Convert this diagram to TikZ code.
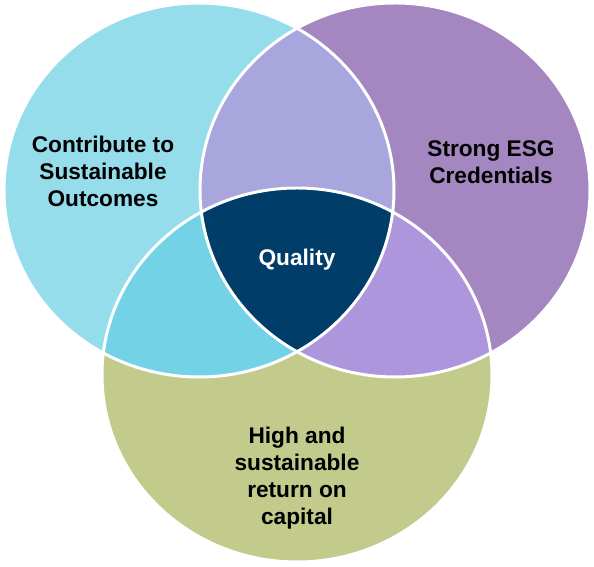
\documentclass[tikz,border=0pt]{standalone}
\usepackage{fontspec}
\setmainfont{Liberation Sans}
\usepackage{tikz}
\usetikzlibrary{positioning}

\definecolor{esgSky}{HTML}{96DDEB}
\definecolor{esgCyan}{HTML}{73D2E6}
\definecolor{esgLilac}{HTML}{A8A6DC}
\definecolor{esgPurple}{HTML}{A487C0}
\definecolor{esgViolet}{HTML}{AD96DC}
\definecolor{esgOlive}{HTML}{C2CA8C}
\definecolor{esgNavy}{HTML}{003D69}

\begin{document}
\begin{tikzpicture}[
		ring/.style={x radius=3.9cm, y radius=3.74cm},
		label/.style={align=center, font=\fontsize{12.9}{15.4}\selectfont\bfseries}
	]
		\useasboundingbox (0,0) rectangle (11.88,11.34);
		
		% ---------------------------------------------------------
		% Circle centres
		% ---------------------------------------------------------
		\coordinate (lc) at (3.98,7.54);   % Sustainable outcomes
		\coordinate (rc) at (7.90,7.54);   % ESG credentials
		\coordinate (bc) at (5.94,3.84);   % Return on capital
		
		% Full circles
		\fill[esgSky] (lc) ellipse [ring];
		\fill[esgPurple] (rc) ellipse [ring];
		\fill[esgOlive] (bc) ellipse [ring];
		
		% Pairwise overlaps
		\begin{scope}
			\clip (lc) ellipse [ring];
			\fill[esgLilac] (rc) ellipse [ring];
			\fill[esgCyan] (bc) ellipse [ring];
		\end{scope}
		\begin{scope}
			\clip (rc) ellipse [ring];
			\fill[esgViolet] (bc) ellipse [ring];
		\end{scope}
		
		% Centre overlap
		\begin{scope}
			\clip (lc) ellipse [ring];
			\clip (rc) ellipse [ring];
			\fill[esgNavy] (bc) ellipse [ring];
		\end{scope}
		
		% White borders
		\draw[white, line width=1.7pt] (lc) ellipse [ring];
		\draw[white, line width=1.7pt] (rc) ellipse [ring];
		\draw[white, line width=1.7pt] (bc) ellipse [ring];
		
		% ---------------------------------------------------------
		% Labels
		% ---------------------------------------------------------
		\node[label] (outcomes) at (2.06,7.92) {Contribute to\\Sustainable\\Outcomes};
		\node[label] (credentials) at (9.82,8.10) {Strong ESG\\Credentials};
		\node[label, white] (quality) at (5.94,6.14) {Quality};
		\node[label] (capital) at (5.94,1.78) {High and\\sustainable\\return on\\capital};
		
	\end{tikzpicture}
\end{document}
